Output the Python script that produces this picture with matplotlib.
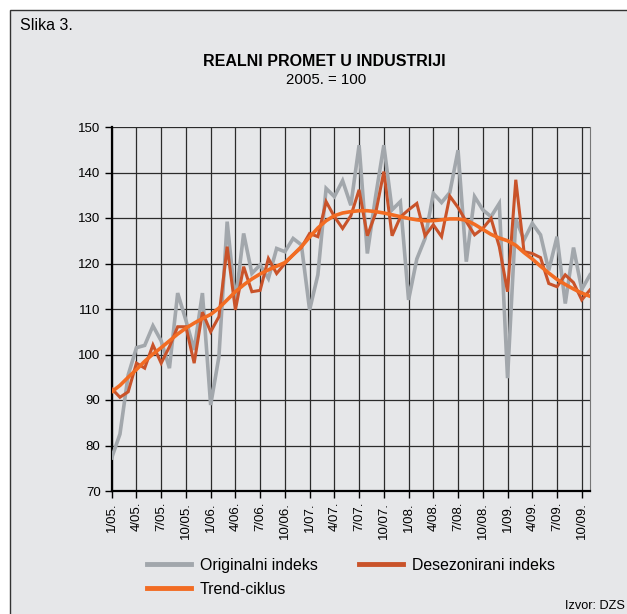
import numpy as np
import matplotlib
matplotlib.use('Agg')
import matplotlib.pyplot as plt
from matplotlib.patches import Rectangle

plt.rcParams['font.family'] = ['Liberation Sans', 'DejaVu Sans']

# monthly data 1/05 - 11/09
original = [77.3, 82.5, 95.5, 101.5, 102.0, 106.3, 103.0, 97.0, 113.5, 107.5,
            101.0, 113.5, 88.9, 99.5, 129.2, 111.5, 126.6, 117.8, 119.7, 116.7,
            123.3, 122.6, 125.5, 124.1, 109.8, 117.5, 136.5, 134.7, 138.2, 132.8,
            146.0, 122.2, 134.7, 146.0, 131.8, 133.6, 112.0, 121.0, 125.5, 135.4,
            133.4, 135.6, 144.9, 120.4, 134.7, 131.8, 130.3, 133.2, 94.8, 129.8,
            125.2, 128.8, 126.3, 118.5, 125.9, 111.2, 123.5, 114.3, 117.5]
desez = [92.5, 90.6, 91.8, 98.1, 97.0, 102.1, 98.1, 101.7, 106.1, 106.1,
         98.1, 109.3, 105.0, 108.3, 123.7, 109.8, 119.3, 113.8, 114.1, 121.1,
         117.8, 120.0, 121.9, 123.5, 126.6, 125.9, 133.6, 130.3, 127.7, 130.5,
         136.2, 126.1, 131.0, 140.2, 126.1, 130.2, 131.8, 133.2, 126.1, 128.5,
         125.9, 134.8, 132.3, 129.2, 126.3, 127.7, 129.9, 123.7, 113.8, 138.4,
         122.6, 122.2, 121.3, 115.6, 114.9, 117.5, 115.8, 112.0, 114.2]
trend = [91.8, 93.2, 95.0, 96.7, 98.5, 100.1, 101.5, 103.0, 104.5, 105.8,
         106.9, 107.9, 108.8, 110.2, 112.0, 113.8, 115.3, 116.6, 117.7, 118.6,
         119.4, 120.2, 121.9, 123.7, 125.8, 127.8, 129.4, 130.5, 131.1, 131.4,
         131.6, 131.6, 131.4, 131.1, 130.7, 130.3, 129.9, 129.6, 129.4, 129.4,
         129.6, 129.8, 129.8, 129.5, 128.6, 127.5, 126.4, 125.6, 125.0, 124.0,
         122.4, 121.0, 119.4, 117.9, 116.5, 115.4, 114.4, 113.5, 112.8]
tick_labels = ['1/05.', '4/05.', '7/05.', '10/05.', '1/06.', '4/06.', '7/06.', '10/06.',
               '1/07.', '4/07.', '7/07.', '10/07.', '1/08.', '4/08.', '7/08.', '10/08.',
               '1/09.', '4/09.', '7/09.', '10/09.']

bg = '#e6e7e9'
fig = plt.figure(figsize=(6.27, 6.14), dpi=100)
fig.patch.set_facecolor('white')
# framed panel, runs off the right and bottom edge
fig.patches.append(Rectangle((10/627, -0.05), 1.1, 1 - 10/614 + 0.05, transform=fig.transFigure,
                             facecolor=bg, edgecolor='#333333', lw=1.0, zorder=-10))

ax = fig.add_axes([111.7/627, 1 - 491/614, (590 - 111.7)/627, (491 - 127)/614])
ax.set_facecolor(bg)

x = np.arange(len(original))
ax.plot(x, original, color='#a2a7ac', lw=2.6, label='Originalni indeks', zorder=3, solid_joinstyle='miter')
ax.plot(x, desez, color='#c9532a', lw=2.2, label='Desezonirani indeks', zorder=4, solid_joinstyle='miter')
ax.plot(x, trend, color='#f26c23', lw=2.6, label='Trend-ciklus', zorder=5)

ax.set_xlim(0, len(original) - 1)
ax.set_ylim(70, 150)
ax.set_yticks(np.arange(70, 151, 10))
ax.set_xticks(np.arange(0, 58, 3))
ax.set_xticklabels(tick_labels, rotation=90, fontsize=9.5)
ax.tick_params(axis='y', labelsize=9.5, length=5, width=1, pad=3)
ax.tick_params(axis='x', length=5, width=1, pad=3)
ax.grid(True, color='#2b2b2b', lw=0.9)
ax.set_axisbelow(True)
ax.spines['top'].set_visible(False)
ax.spines['right'].set_color('#777777')
ax.spines['left'].set_linewidth(1.6)
ax.spines['bottom'].set_linewidth(1.6)

fig.text(20/627, 1 - 25/614, 'Slika 3.', fontsize=11.5, va='center', ha='left')
fig.text(324/627, 1 - 62/614, 'REALNI PROMET U INDUSTRIJI', fontsize=11.5, fontweight='bold',
         ha='center', va='center')
fig.text(326/627, 1 - 80/614, '2005. = 100', fontsize=10.8, ha='center', va='center')
fig.text(625/627, 1 - 606/614, 'Izvor: DZS', fontsize=9.2, ha='right', va='center')

h, l = ax.get_legend_handles_labels()
order = [0, 2, 1]
leg = fig.legend([h[i] for i in order], [l[i] for i in order], ncol=2, frameon=False,
                 loc='upper left', bbox_to_anchor=(147/627, 1 - 558/614), borderpad=0,
                 borderaxespad=0, fontsize=11.4, handlelength=2.75, handletextpad=0.6,
                 columnspacing=2.6, labelspacing=0.55)
for line in leg.get_lines():
    line.set_linewidth(3.5)

fig.savefig('out.png', dpi=100, facecolor=fig.get_facecolor())
